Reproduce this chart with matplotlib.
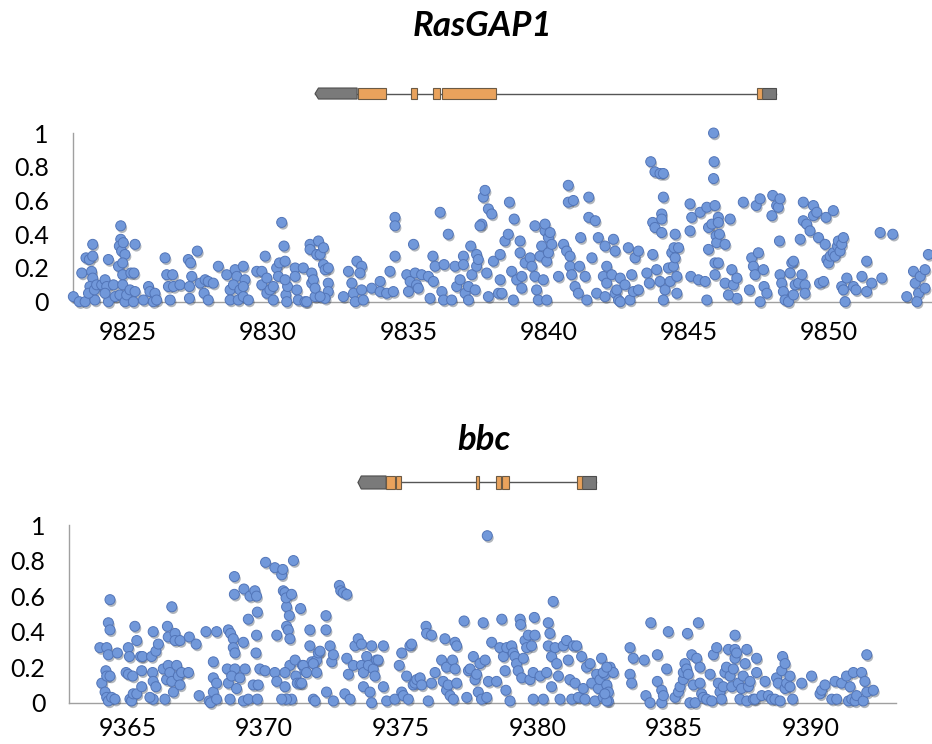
#%%
# Per-position scores for RasGAP1 and bbc, gene models drawn above each panel
import matplotlib.pyplot as plt
import matplotlib.patheffects as pe
from matplotlib.patches import Rectangle, Polygon
from matplotlib import transforms
import numpy as np

#%%
# data: (position, score)
rasgap_points = [
    (9823.05, 0.03), (9823.26, 0.00), (9823.47, 0.00), (9823.82, 0.01), (9823.35, 0.17), (9823.50, 0.26),
    (9823.62, 0.25), (9823.74, 0.27), (9823.74, 0.34), (9823.70, 0.18), (9823.74, 0.14), (9823.64, 0.09),
    (9823.59, 0.05), (9823.80, 0.07), (9823.88, 0.10), (9824.06, 0.10), (9824.18, 0.13), (9824.24, 0.09),
    (9824.30, 0.00), (9824.18, 0.05), (9824.30, 0.25), (9824.48, 0.10), (9824.54, 0.03), (9824.66, 0.21),
    (9824.74, 0.45), (9824.74, 0.37), (9824.69, 0.33), (9824.77, 0.30), (9824.83, 0.35), (9824.89, 0.28),
    (9824.81, 0.23), (9824.81, 0.16), (9824.81, 0.10), (9824.71, 0.04), (9824.89, 0.00), (9824.95, 0.04),
    (9825.10, 0.17), (9825.21, 0.17), (9825.25, 0.34), (9825.07, 0.07), (9825.25, 0.06), (9825.19, 0.00),
    (9825.55, 0.01), (9825.73, 0.09), (9825.78, 0.06), (9825.90, 0.00), (9825.96, 0.05), (9826.02, 0.01),
    (9826.32, 0.26), (9826.38, 0.16), (9826.44, 0.09), (9826.50, 0.01), (9826.59, 0.16), (9826.62, 0.09),
    (9826.85, 0.10), (9827.15, 0.25), (9827.23, 0.23), (9827.27, 0.15), (9827.19, 0.09), (9827.19, 0.02),
    (9827.47, 0.30), (9827.57, 0.11), (9827.71, 0.05), (9827.75, 0.13), (9827.86, 0.12), (9827.86, 0.01),
    (9828.04, 0.11), (9828.22, 0.21), (9828.52, 0.16), (9828.64, 0.07), (9828.64, 0.01), (9828.82, 0.19),
    (9828.88, 0.15), (9828.76, 0.10), (9828.93, 0.01), (9828.99, 0.07), (9829.11, 0.21), (9829.17, 0.13),
    (9829.11, 0.09), (9829.11, 0.03), (9829.29, 0.01), (9829.59, 0.18), (9829.77, 0.18), (9829.77, 0.10),
    (9829.89, 0.27), (9829.95, 0.14), (9829.95, 0.05), (9830.06, 0.07), (9830.18, 0.09), (9830.18, 0.01),
    (9830.30, 0.20), (9830.36, 0.15), (9830.40, 0.23), (9830.48, 0.47), (9830.56, 0.33), (9830.60, 0.24),
    (9830.63, 0.04), (9830.66, 0.00), (9830.69, 0.09), (9830.60, 0.13), (9830.96, 0.20), (9830.96, 0.15),
    (9831.02, 0.07), (9831.07, 0.01), (9831.25, 0.20), (9831.31, 0.00), (9831.37, 0.00), (9831.49, 0.34),
    (9831.49, 0.31), (9831.55, 0.17), (9831.55, 0.11), (9831.67, 0.03), (9831.73, 0.28), (9831.79, 0.36),
    (9831.61, 0.13), (9831.67, 0.08), (9831.85, 0.28), (9831.97, 0.32), (9831.97, 0.22), (9832.03, 0.19),
    (9832.14, 0.20), (9832.14, 0.11), (9832.14, 0.06), (9832.03, 0.02), (9831.85, 0.03), (9832.68, 0.03),
    (9832.86, 0.18), (9832.98, 0.11), (9833.04, 0.05), (9833.10, 0.00), (9833.16, 0.24), (9833.33, 0.21),
    (9833.27, 0.17), (9833.33, 0.07), (9833.39, 0.01), (9833.69, 0.08), (9833.99, 0.12), (9833.99, 0.06),
    (9834.22, 0.05), (9834.34, 0.18), (9834.46, 0.06), (9834.52, 0.50), (9834.52, 0.45), (9834.52, 0.27),
    (9834.94, 0.16), (9835.00, 0.06), (9835.06, 0.12), (9835.18, 0.34), (9835.24, 0.17), (9835.29, 0.10),
    (9835.35, 0.08), (9835.47, 0.16), (9835.71, 0.15), (9835.77, 0.02), (9835.87, 0.27), (9835.89, 0.12),
    (9835.95, 0.21), (9836.13, 0.53), (9836.19, 0.06), (9836.25, 0.01), (9836.27, 0.22), (9836.42, 0.40),
    (9836.54, 0.01), (9836.66, 0.21), (9836.72, 0.09), (9836.84, 0.13), (9836.96, 0.27), (9836.96, 0.22),
    (9837.02, 0.05), (9837.14, 0.09), (9837.14, 0.01), (9837.22, 0.33), (9837.26, 0.16), (9837.38, 0.07),
    (9837.43, 0.28), (9837.43, 0.21), (9837.49, 0.25), (9837.61, 0.46), (9837.55, 0.45), (9837.67, 0.62),
    (9837.73, 0.66), (9837.79, 0.17), (9837.85, 0.55), (9837.97, 0.52), (9837.85, 0.03), (9838.03, 0.24),
    (9838.21, 0.05), (9838.27, 0.28), (9838.27, 0.13), (9838.33, 0.05), (9838.44, 0.36), (9838.56, 0.40),
    (9838.60, 0.59), (9838.68, 0.18), (9838.74, 0.01), (9838.77, 0.49), (9838.86, 0.13), (9838.98, 0.36),
    (9838.98, 0.29), (9839.04, 0.15), (9839.04, 0.08), (9839.16, 0.23), (9839.34, 0.26), (9839.40, 0.21),
    (9839.51, 0.45), (9839.51, 0.15), (9839.57, 0.07), (9839.63, 0.01), (9839.69, 0.27), (9839.75, 0.33),
    (9839.81, 0.13), (9839.87, 0.42), (9839.87, 0.46), (9839.93, 0.24), (9839.93, 0.01), (9839.99, 0.38),
    (9839.99, 0.29), (9840.05, 0.41), (9840.11, 0.34), (9840.35, 0.15), (9840.53, 0.34), (9840.64, 0.30),
    (9840.70, 0.69), (9840.70, 0.59), (9840.76, 0.27), (9840.76, 0.21), (9840.82, 0.16), (9840.88, 0.60),
    (9840.94, 0.09), (9841.06, 0.05), (9841.10, 0.21), (9841.14, 0.38), (9841.30, 0.15), (9841.36, 0.01),
    (9841.43, 0.62), (9841.43, 0.50), (9841.54, 0.26), (9841.66, 0.48), (9841.71, 0.05), (9841.77, 0.38),
    (9841.95, 0.15), (9842.01, 0.33), (9842.07, 0.21), (9842.31, 0.37), (9842.37, 0.30), (9842.37, 0.05),
    (9842.49, 0.01), (9842.07, 0.11), (9842.01, 0.03), (9842.25, 0.16), (9842.43, 0.07), (9842.55, 0.14),
    (9842.55, 0.00), (9842.84, 0.32), (9842.96, 0.16), (9843.08, 0.26), (9843.20, 0.30), (9842.90, 0.01),
    (9843.02, 0.06), (9842.72, 0.10), (9843.20, 0.07), (9843.50, 0.17), (9843.59, 0.11), (9843.64, 0.83),
    (9843.71, 0.28), (9843.71, 0.47), (9843.79, 0.77), (9843.79, 0.44), (9843.85, 0.19), (9843.97, 0.76),
    (9844.03, 0.52), (9844.03, 0.49), (9844.03, 0.41), (9844.09, 0.62), (9844.09, 0.76), (9843.97, 0.12),
    (9844.15, 0.07), (9844.09, 0.01), (9844.27, 0.20), (9844.33, 0.12), (9844.39, 0.29), (9844.45, 0.21),
    (9844.51, 0.40), (9844.47, 0.32), (9844.57, 0.15), (9844.57, 0.05), (9844.63, 0.32), (9844.51, 0.26),
    (9845.04, 0.58), (9845.04, 0.42), (9845.10, 0.50), (9845.07, 0.15), (9845.34, 0.13), (9845.40, 0.53),
    (9845.58, 0.12), (9845.64, 0.01), (9845.64, 0.56), (9845.70, 0.44), (9845.70, 0.31), (9845.82, 0.46),
    (9845.88, 1.00), (9845.90, 0.83), (9845.88, 0.73), (9845.93, 0.57), (9845.97, 0.39), (9845.99, 0.35),
    (9846.05, 0.50), (9846.05, 0.47), (9846.09, 0.40), (9845.93, 0.16), (9845.93, 0.23), (9846.05, 0.23),
    (9846.29, 0.34), (9846.29, 0.11), (9846.47, 0.49), (9846.53, 0.19), (9846.59, 0.10), (9846.71, 0.14),
    (9846.71, 0.02), (9846.41, 0.04), (9846.94, 0.59), (9847.16, 0.07), (9847.24, 0.26), (9847.30, 0.21),
    (9847.36, 0.16), (9847.40, 0.57), (9847.48, 0.29), (9847.54, 0.61), (9847.54, 0.00), (9847.66, 0.19),
    (9847.68, 0.09), (9847.78, 0.05), (9847.96, 0.51), (9847.99, 0.63), (9848.13, 0.57), (9848.19, 0.56),
    (9848.25, 0.61), (9848.23, 0.36), (9848.25, 0.16), (9848.31, 0.11), (9848.37, 0.06), (9848.43, 0.01),
    (9848.55, 0.00), (9848.61, 0.17), (9848.67, 0.23), (9848.73, 0.04), (9848.73, 0.24), (9848.79, 0.10),
    (9848.91, 0.11), (9848.97, 0.37), (9849.03, 0.16), (9849.08, 0.59), (9849.08, 0.48), (9849.14, 0.10),
    (9849.14, 0.05), (9849.20, 0.46), (9849.32, 0.42), (9849.44, 0.51), (9849.44, 0.57), (9849.56, 0.53),
    (9849.62, 0.38), (9849.66, 0.11), (9849.80, 0.12), (9849.86, 0.34), (9849.89, 0.50), (9849.92, 0.25),
    (9849.98, 0.23), (9850.04, 0.27), (9850.15, 0.54), (9850.15, 0.29), (9850.21, 0.27), (9850.30, 0.33),
    (9850.33, 0.36), (9850.39, 0.30), (9850.45, 0.34), (9850.51, 0.38), (9850.45, 0.09), (9850.51, 0.07),
    (9850.57, 0.00), (9850.63, 0.14), (9850.87, 0.09), (9850.96, 0.07), (9851.17, 0.15), (9851.34, 0.24),
    (9851.34, 0.06), (9851.52, 0.11), (9851.82, 0.41), (9851.88, 0.14), (9852.27, 0.40), (9852.77, 0.03),
    (9853.01, 0.18), (9853.07, 0.11), (9853.19, 0.05), (9853.25, 0.15), (9853.13, 0.00), (9853.42, 0.08),
    (9853.42, 0.19), (9853.54, 0.28),
]

bbc_points = [
    (9363.99, 0.31), (9364.24, 0.31), (9364.30, 0.27), (9364.36, 0.58), (9364.30, 0.45), (9364.36, 0.41),
    (9364.06, 0.11), (9364.21, 0.18), (9364.24, 0.15), (9364.36, 0.15), (9364.18, 0.06), (9364.24, 0.03),
    (9364.30, 0.01), (9364.42, 0.03), (9364.54, 0.02), (9364.63, 0.28), (9365.03, 0.31), (9365.07, 0.26),
    (9365.09, 0.02), (9365.15, 0.01), (9365.21, 0.05), (9365.27, 0.43), (9365.34, 0.35), (9364.95, 0.17),
    (9365.03, 0.16), (9365.19, 0.15), (9365.34, 0.05), (9365.48, 0.26), (9365.55, 0.26), (9365.52, 0.18),
    (9365.52, 0.09), (9365.88, 0.26), (9365.94, 0.40), (9365.92, 0.17), (9365.94, 0.12), (9365.94, 0.02),
    (9365.82, 0.03), (9366.04, 0.29), (9366.13, 0.33), (9366.04, 0.09), (9366.31, 0.19), (9366.37, 0.02),
    (9366.43, 0.13), (9366.49, 0.21), (9366.46, 0.43), (9366.49, 0.37), (9366.62, 0.54), (9366.55, 0.17),
    (9366.62, 0.12), (9366.68, 0.06), (9366.74, 0.39), (9366.74, 0.35), (9366.80, 0.21), (9366.86, 0.15),
    (9366.92, 0.10), (9366.92, 0.35), (9366.98, 0.17), (9367.23, 0.17), (9367.26, 0.37), (9367.51, 0.33),
    (9367.62, 0.04), (9367.87, 0.40), (9368.26, 0.40), (9368.14, 0.23), (9367.99, 0.01), (9368.04, 0.00),
    (9368.14, 0.06), (9368.14, 0.14), (9368.26, 0.11), (9368.26, 0.02), (9368.69, 0.41), (9368.77, 0.39),
    (9368.87, 0.36), (9368.91, 0.71), (9368.91, 0.61), (9368.87, 0.31), (9368.93, 0.28), (9369.24, 0.34),
    (9369.26, 0.64), (9368.65, 0.19), (9368.93, 0.19), (9369.30, 0.19), (9368.69, 0.11), (9368.81, 0.15),
    (9368.75, 0.02), (9368.99, 0.08), (9369.11, 0.14), (9369.24, 0.01), (9369.42, 0.02), (9369.42, 0.47),
    (9369.48, 0.60), (9369.60, 0.10), (9369.66, 0.63), (9369.72, 0.60), (9369.70, 0.28), (9369.72, 0.38),
    (9369.75, 0.51), (9369.78, 0.10), (9369.75, 0.02), (9369.84, 0.19), (9370.03, 0.18), (9370.05, 0.79),
    (9370.39, 0.76), (9370.46, 0.38), (9370.39, 0.17), (9370.46, 0.12), (9370.64, 0.72), (9370.68, 0.75),
    (9370.70, 0.63), (9370.76, 0.62), (9370.82, 0.54), (9370.80, 0.59), (9370.92, 0.49), (9370.82, 0.43),
    (9370.88, 0.41), (9370.94, 0.36), (9370.94, 0.21), (9371.00, 0.61), (9371.07, 0.80), (9371.00, 0.02),
    (9370.76, 0.09), (9370.82, 0.02), (9370.76, 0.17), (9370.64, 0.02), (9371.13, 0.24), (9371.16, 0.15),
    (9371.21, 0.11), (9371.33, 0.53), (9371.31, 0.11), (9371.40, 0.21), (9371.49, 0.18), (9371.67, 0.41),
    (9371.67, 0.32), (9371.74, 0.23), (9371.80, 0.02), (9371.86, 0.01), (9371.92, 0.24), (9371.98, 0.28),
    (9371.43, 0.21), (9371.37, 0.11), (9371.55, 0.17), (9371.80, 0.22), (9371.92, 0.17), (9372.04, 0.29),
    (9372.26, 0.49), (9372.26, 0.41), (9372.41, 0.32), (9372.47, 0.23), (9372.53, 0.27), (9372.28, 0.06),
    (9372.53, 0.01), (9372.75, 0.66), (9372.80, 0.63), (9372.89, 0.62), (9373.02, 0.61), (9373.02, 0.25),
    (9372.95, 0.05), (9373.08, 0.16), (9373.14, 0.02), (9373.26, 0.21), (9373.32, 0.32), (9373.44, 0.36),
    (9373.56, 0.33), (9373.56, 0.21), (9373.63, 0.17), (9373.63, 0.09), (9373.75, 0.26), (9373.81, 0.21),
    (9373.87, 0.06), (9373.93, 0.32), (9373.93, 0.00), (9373.99, 0.19), (9374.11, 0.24), (9374.05, 0.15),
    (9374.17, 0.24), (9374.36, 0.32), (9374.36, 0.09), (9374.48, 0.01), (9374.78, 0.02), (9374.94, 0.21),
    (9375.03, 0.28), (9375.03, 0.06), (9375.09, 0.04), (9375.21, 0.15), (9375.27, 0.02), (9375.33, 0.32),
    (9375.39, 0.33), (9375.45, 0.10), (9375.51, 0.11), (9375.58, 0.13), (9375.70, 0.14), (9375.76, 0.10),
    (9375.92, 0.43), (9375.94, 0.39), (9376.12, 0.38), (9376.00, 0.01), (9376.12, 0.11), (9376.25, 0.17),
    (9376.49, 0.24), (9376.55, 0.12), (9376.61, 0.36), (9376.67, 0.20), (9376.67, 0.07), (9376.73, 0.10),
    (9376.80, 0.04), (9376.89, 0.24), (9376.92, 0.02), (9376.98, 0.34), (9377.04, 0.32), (9376.98, 0.19),
    (9377.04, 0.11), (9377.31, 0.46), (9377.41, 0.03), (9377.47, 0.18), (9377.53, 0.19), (9377.65, 0.26),
    (9377.71, 0.13), (9377.77, 0.16), (9377.83, 0.06), (9377.89, 0.22), (9377.95, 0.02), (9378.01, 0.45),
    (9378.08, 0.24), (9378.14, 0.03), (9378.16, 0.94), (9378.20, 0.12), (9378.32, 0.34), (9378.50, 0.12),
    (9378.62, 0.31), (9378.69, 0.47), (9378.75, 0.26), (9378.81, 0.18), (9378.84, 0.07), (9378.87, 0.31),
    (9378.99, 0.01), (9379.05, 0.32), (9379.11, 0.28), (9379.17, 0.26), (9379.23, 0.22), (9379.29, 0.18),
    (9379.36, 0.47), (9379.38, 0.44), (9379.42, 0.14), (9379.48, 0.25), (9379.54, 0.35), (9379.60, 0.31),
    (9379.66, 0.38), (9379.72, 0.13), (9379.78, 0.32), (9379.84, 0.17), (9379.88, 0.48), (9379.90, 0.38),
    (9379.84, 0.02), (9380.09, 0.15), (9380.21, 0.02), (9380.33, 0.17), (9380.39, 0.45), (9380.39, 0.32),
    (9380.45, 0.39), (9380.51, 0.26), (9380.51, 0.09), (9380.57, 0.57), (9380.64, 0.31), (9380.70, 0.22),
    (9380.76, 0.15), (9380.82, 0.02), (9380.94, 0.32), (9381.06, 0.35), (9381.12, 0.24), (9381.18, 0.13),
    (9381.25, 0.02), (9381.31, 0.32), (9381.37, 0.11), (9381.43, 0.32), (9381.49, 0.03), (9381.61, 0.26),
    (9381.67, 0.08), (9381.73, 0.02), (9381.79, 0.20), (9381.92, 0.22), (9381.98, 0.11), (9382.10, 0.01),
    (9382.16, 0.16), (9382.22, 0.08), (9382.28, 0.13), (9382.34, 0.25), (9382.40, 0.03), (9382.46, 0.16),
    (9382.53, 0.10), (9382.59, 0.01), (9382.65, 0.20), (9382.77, 0.17), (9382.40, 0.17), (9382.53, 0.20),
    (9382.59, 0.06), (9382.53, 0.01), (9382.46, 0.05), (9383.38, 0.31), (9383.50, 0.25), (9383.38, 0.16),
    (9383.44, 0.11), (9383.90, 0.24), (9383.96, 0.04), (9384.11, 0.00), (9384.14, 0.45), (9384.38, 0.27),
    (9384.38, 0.12), (9384.54, 0.07), (9384.54, 0.00), (9384.60, 0.04), (9384.72, 0.19), (9384.78, 0.40),
    (9385.03, 0.03), (9385.15, 0.06), (9385.21, 0.09), (9385.33, 0.13), (9385.33, 0.17), (9385.39, 0.22),
    (9385.45, 0.19), (9385.48, 0.39), (9385.51, 0.16), (9385.57, 0.00), (9385.64, 0.27), (9385.70, 0.10),
    (9385.76, 0.00), (9385.82, 0.25), (9385.88, 0.45), (9385.94, 0.20), (9385.94, 0.11), (9386.00, 0.05),
    (9386.06, 0.03), (9386.18, 0.02), (9386.31, 0.16), (9386.37, 0.01), (9386.43, 0.27), (9386.55, 0.31),
    (9386.61, 0.11), (9386.67, 0.06), (9386.73, 0.02), (9386.79, 0.09), (9386.85, 0.17), (9386.91, 0.20),
    (9386.98, 0.30), (9387.04, 0.15), (9387.10, 0.09), (9387.16, 0.19), (9387.22, 0.38), (9387.22, 0.30),
    (9387.22, 0.25), (9387.28, 0.28), (9387.34, 0.11), (9387.40, 0.02), (9387.46, 0.08), (9387.52, 0.15),
    (9387.59, 0.22), (9387.65, 0.01), (9387.65, 0.30), (9387.71, 0.09), (9387.77, 0.12), (9387.89, 0.02),
    (9387.95, 0.02), (9388.01, 0.25), (9388.01, 0.17), (9388.20, 0.04), (9388.32, 0.12), (9388.44, 0.04),
    (9388.56, 0.02), (9388.68, 0.02), (9388.74, 0.14), (9388.80, 0.11), (9388.87, 0.01), (9388.93, 0.18),
    (9388.96, 0.26), (9389.05, 0.22), (9389.05, 0.08), (9389.11, 0.11), (9389.23, 0.15), (9389.23, 0.09),
    (9389.33, 0.02), (9389.66, 0.11), (9390.02, 0.15), (9390.33, 0.05), (9390.39, 0.07), (9390.51, 0.10),
    (9390.76, 0.02), (9390.88, 0.12), (9390.94, 0.02), (9391.12, 0.11), (9391.30, 0.15), (9391.37, 0.01),
    (9391.43, 0.09), (9391.49, 0.02), (9391.55, 0.17), (9391.61, 0.01), (9391.67, 0.04), (9391.85, 0.17),
    (9391.91, 0.01), (9391.97, 0.12), (9392.04, 0.27), (9392.04, 0.06), (9392.28, 0.07),
]

# gene models (start, end); first UTR carries the strand arrow on its left end
rasgap_utr = [(9831.67, 9833.17), (9847.61, 9848.11)]
rasgap_exons = [(9833.20, 9834.20), (9835.09, 9835.31), (9835.88, 9836.13),
                (9836.20, 9838.12), (9847.43, 9847.61)]
bbc_utr = [(9373.43, 9374.46), (9381.62, 9382.14)]
bbc_exons = [(9374.46, 9374.78), (9374.82, 9375.00), (9377.74, 9377.85),
             (9378.47, 9378.66), (9378.70, 9378.95), (9381.44, 9381.62)]

rasgap_ticks = [9825, 9830, 9835, 9840, 9845, 9850]
bbc_ticks = [9365, 9370, 9375, 9380, 9385, 9390]
y_ticks = [0, 0.2, 0.4, 0.6, 0.8, 1]
y_labels = ['0', '0.2', '0.4', '0.6', '0.8', '1']

#%%
plt.rcParams['font.family'] = ['Lato', 'DejaVu Sans']

fig = plt.figure(figsize=(9.32, 7.44), dpi=100, facecolor='white')

dot_face = '#7198da'
dot_edge = '#5275b8'
axis_grey = '#a0a0a0'


def score_panel(rect, points, xlim, ticks, xpad):
    ax = fig.add_axes(rect)
    pos = np.array([p[0] for p in points])
    val = np.array([p[1] for p in points])
    sc = ax.scatter(pos, val, s=52, c=dot_face, edgecolors=dot_edge, linewidths=0.7,
                    clip_on=False, zorder=3)
    sc.set_path_effects([pe.SimplePatchShadow(offset=(1.0, -1.6), alpha=0.35), pe.Normal()])
    ax.set_xlim(*xlim)
    ax.set_ylim(0, 1)
    ax.set_xticks(ticks)
    ax.set_yticks(y_ticks)
    ax.set_yticklabels(y_labels)
    for side in ['top', 'right']:
        ax.spines[side].set_visible(False)
    for side in ['left', 'bottom']:
        ax.spines[side].set_color(axis_grey)
        ax.spines[side].set_linewidth(1.0)
    ax.tick_params(axis='both', length=0, labelsize=18, colors='black')
    ax.tick_params(axis='y', pad=17)
    ax.tick_params(axis='x', pad=xpad)
    return ax


def gene_model(ax, utrs, exons, yc, h):
    tr = transforms.blended_transform_factory(ax.transData, fig.transFigure)
    start = utrs[0][0]
    end = utrs[-1][1]
    ax.plot([start, end], [yc, yc], transform=tr, color='#555555', lw=1.0,
            clip_on=False, zorder=1)
    # left UTR with arrow tip
    s, e = utrs[0]
    tip = 0.12
    arrow = Polygon([(s + tip, yc + h / 2), (e, yc + h / 2), (e, yc - h / 2),
                     (s + tip, yc - h / 2), (s, yc)], closed=True, transform=tr,
                    facecolor='#7a7a7a', edgecolor='#4d4d4d', lw=0.8, clip_on=False, zorder=2)
    fig.add_artist(arrow)
    for s, e in utrs[1:]:
        fig.add_artist(Rectangle((s, yc - h / 2), e - s, h, transform=tr,
                                 facecolor='#7a7a7a', edgecolor='#4d4d4d', lw=0.8,
                                 clip_on=False, zorder=2))
    for s, e in exons:
        fig.add_artist(Rectangle((s, yc - h / 2), e - s, h, transform=tr,
                                 facecolor='#e9a25c', edgecolor='#6b5a45', lw=0.8,
                                 clip_on=False, zorder=3))


ax1 = score_panel([0.0778, 0.5945, 0.9222, 0.2267], rasgap_points,
                  (9823.02, 9853.67), rasgap_ticks, 14)
ax2 = score_panel([0.0740, 0.0555, 0.8874, 0.2388], bbc_points,
                  (9362.86, 9393.11), bbc_ticks, 10)

gene_model(ax1, rasgap_utr, rasgap_exons, 0.8743, 0.0148)
gene_model(ax2, bbc_utr, bbc_exons, 0.3515, 0.0175)

fig.text(0.5177, 0.965, 'RasGAP1', ha='center', va='center', fontsize=25,
         fontweight='bold', fontstyle='italic')
fig.text(0.519, 0.4086, 'bbc', ha='center', va='center', fontsize=25,
         fontweight='bold', fontstyle='italic')

fig.savefig('out.png', dpi=100, facecolor='white')
